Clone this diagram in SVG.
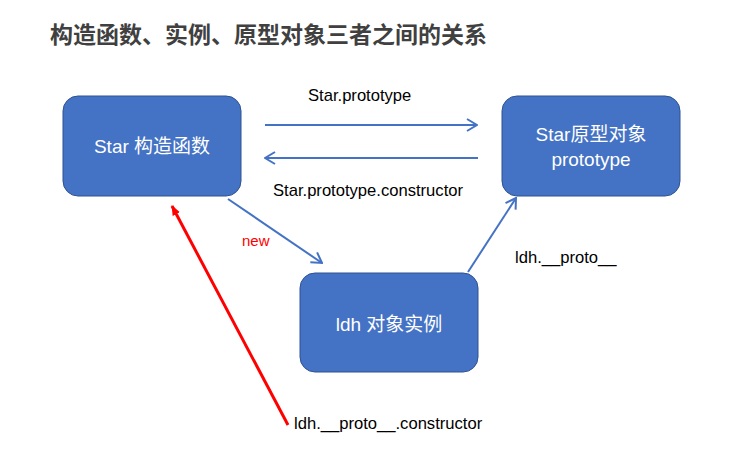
<svg xmlns="http://www.w3.org/2000/svg" width="749" height="465" viewBox="0 0 749 465">
<style>
.title{font-family:"Liberation Sans","Noto Sans CJK SC",sans-serif;font-size:23px;font-weight:bold;fill:#404040}
.box{fill:#4472C4;stroke:#2F528F;stroke-width:1}
.bt{font-family:"Liberation Sans","Noto Sans CJK SC",sans-serif;font-size:19px;fill:#FFFFFF;text-anchor:middle}
.lbl{font-family:"Liberation Sans","Noto Sans CJK SC",sans-serif;font-size:16.6px;fill:#000000}
.blue{stroke:#4472C4;stroke-width:2;fill:none}
.red{stroke:#FF0000;stroke-width:3;fill:none}
</style>
<defs>
<marker id="open" viewBox="0 0 12 14" refX="11" refY="7" markerWidth="6" markerHeight="7" markerUnits="strokeWidth" orient="auto">
<polyline points="1,1 11,7 1,13" fill="none" stroke="#4472C4" stroke-width="2"/>
</marker>
<marker id="tri" viewBox="0 0 10 8" refX="9" refY="4" markerWidth="3.4" markerHeight="2.8" markerUnits="strokeWidth" orient="auto">
<path d="M0,0 L10,4 L0,8 Z" fill="#FF0000"/>
</marker>
</defs>
<rect width="749" height="465" fill="#FFFFFF"/>
<text class="title" x="50" y="43">构造函数、实例、原型对象三者之间的关系</text>
<g id="connectors">
<line class="blue" x1="265" y1="125" x2="477" y2="125" marker-end="url(#open)"/>
<line class="blue" x1="478" y1="158" x2="265" y2="158" marker-end="url(#open)"/>
<line class="blue" x1="228" y1="199" x2="322" y2="263" marker-end="url(#open)"/>
<line class="blue" x1="468" y1="272" x2="516" y2="198" marker-end="url(#open)"/>
<line class="red" x1="288" y1="425" x2="172" y2="206" marker-end="url(#tri)"/>
<text class="lbl" x="308" y="101">Star.prototype</text>
<text class="lbl" x="273" y="196">Star.prototype.constructor</text>
<text class="lbl" x="242" y="246" style="fill:#FF0000;font-size:15px">new</text>
<text class="lbl" x="515" y="263">ldh.__proto__</text>
<text class="lbl" x="294" y="429">ldh.__proto__.constructor</text>
</g>
<g id="star">
<rect class="box" x="63" y="96" width="178" height="100" rx="15"/>
<text class="bt" x="152" y="153">Star 构造函数</text>
</g>
<g id="prototype">
<rect class="box" x="502" y="96" width="178" height="100" rx="15"/>
<text class="bt" x="591" y="141">Star原型对象</text>
<text class="bt" x="591" y="166">prototype</text>
</g>
<g id="ldh">
<rect class="box" x="300" y="273" width="178" height="99" rx="15"/>
<text class="bt" x="389" y="331">ldh 对象实例</text>
</g>
</svg>
